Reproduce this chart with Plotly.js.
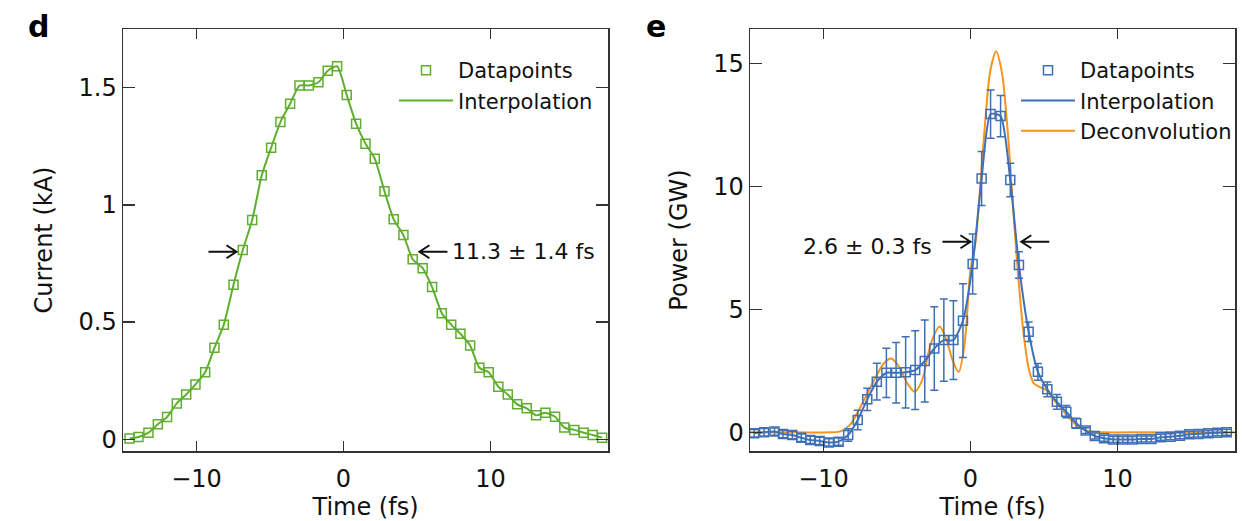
<!DOCTYPE html>
<html><head><meta charset="utf-8">
<script src="https://cdn.plot.ly/plotly-3.0.1.min.js"></script>
<style>html,body{margin:0;padding:0;background:#fff}#chart{width:1243px;height:521px}</style>
</head><body><div id="chart"></div>
<script>
// ---- Panel d: current profile ----
const currentTime = [-14.56,-13.95,-13.27,-12.63,-12.0,-11.34,-10.7,-10.07,-9.41,-8.78,-8.14,-7.48,-6.85,-6.21,-5.56,-4.92,-4.29,-3.63,-2.99,-2.36,-1.7,-1.07,-0.43,0.22,0.86,1.5,2.13,2.79,3.42,4.08,4.71,5.39,6.03,6.69,7.33,7.96,8.62,9.25,9.88,10.54,11.18,11.82,12.47,13.11,13.74,14.4,15.03,15.71,16.35,16.96,17.6];
const currentKA = [0.003,0.01,0.028,0.064,0.095,0.153,0.191,0.234,0.286,0.39,0.489,0.659,0.807,0.935,1.126,1.244,1.353,1.431,1.509,1.509,1.523,1.572,1.591,1.469,1.346,1.261,1.197,1.058,0.938,0.871,0.768,0.73,0.649,0.538,0.489,0.45,0.4,0.305,0.286,0.224,0.191,0.149,0.132,0.102,0.113,0.096,0.05,0.04,0.028,0.018,0.007];

// ---- Panel e: power profile ----
const powerTime = [-14.72,-14.04,-13.33,-12.76,-12.12,-11.51,-10.9,-10.26,-9.63,-8.97,-8.32,-7.67,-7.02,-6.37,-5.72,-5.06,-4.41,-3.76,-3.11,-2.46,-1.81,-1.16,-0.51,0.15,0.76,1.37,2.05,2.71,3.3,3.96,4.59,5.23,5.88,6.52,7.2,7.84,8.46,9.09,9.71,10.38,11.02,11.63,12.31,12.95,13.61,14.25,14.88,15.5,16.18,16.8,17.44];
const powerGW = [-0.04,0.0,0.03,-0.07,-0.11,-0.22,-0.31,-0.35,-0.41,-0.38,-0.11,0.5,1.34,2.06,2.42,2.42,2.44,2.53,2.9,3.41,3.75,3.75,4.54,6.84,10.32,12.94,12.86,10.26,6.8,4.09,2.46,1.75,1.24,0.84,0.37,0.07,-0.15,-0.24,-0.29,-0.29,-0.29,-0.27,-0.27,-0.2,-0.18,-0.14,-0.08,-0.07,-0.04,-0.02,0.0];
const powerErr = [0.15,0.15,0.15,0.15,0.15,0.15,0.15,0.15,0.15,0.15,0.25,0.4,0.45,0.75,1.0,1.23,1.45,1.6,1.67,1.7,1.67,1.6,1.5,1.22,1.1,0.98,0.84,0.68,0.54,0.4,0.34,0.3,0.3,0.25,0.2,0.12,0.12,0.12,0.12,0.12,0.12,0.12,0.12,0.12,0.12,0.12,0.12,0.12,0.12,0.12,0.12];
const deconvTime = [-15,-12,-9.5,-8.8,-8.2,-7.6,-7.0,-6.4,-5.9,-5.4,-4.9,-4.3,-3.8,-3.3,-2.7,-2.1,-1.6,-1.2,-0.8,-0.4,0.0,0.35,0.7,1.0,1.35,1.75,2.15,2.5,2.8,3.1,3.4,3.7,4.0,4.3,4.7,5.2,5.7,6.2,6.7,7.2,7.7,8.2,9,12,15,18];
const deconvGW = [0,0,0,0.05,0.3,0.9,1.6,2.3,2.8,3.0,2.7,2.0,1.65,2.1,3.6,4.3,3.7,2.9,2.45,3.6,6.6,7.75,10.3,12.6,14.7,15.5,14.6,12.5,10.0,7.5,5.3,3.6,2.5,2.0,1.85,1.7,1.3,0.95,0.6,0.3,0.12,0.03,0,0,0,0];

// ---- ticks ----
const timeTicks = [-10,0,10];
const currentTicks = [0,0.5,1,1.5];
const powerTicks = [0,5,10,15];

// ---- FWHM markers ----
const currentHalf = 0.8;
const currentFwhmEdges = [-7.28, 5.17];
const currentFwhmLabel = '11.3 ± 1.4 fs';
const powerHalf = 7.75;
const powerFwhmEdges = [0.0, 3.46];
const powerFwhmLabel = '2.6 ± 0.3 fs';

const GREEN = '#5fae2e', BLUE = '#3f6fb5', ORANGE = '#f7931e', AX = '#333333';
const FONT = 'DejaVu Sans';
const W = 1243, H = 521;

const traces = [
  {x: currentTime, y: currentKA, type:'scatter', mode:'lines', line:{color:GREEN, width:2, shape:'spline', smoothing:0.6},
   name:'Interpolation', xaxis:'x', yaxis:'y', legend:'legend', legendrank:2},
  {x: currentTime, y: currentKA, type:'scatter', mode:'markers', marker:{symbol:'square-open', size:9, color:GREEN, line:{width:1.5, color:GREEN}},
   name:'Datapoints', xaxis:'x', yaxis:'y', legend:'legend', legendrank:1},
  {x: deconvTime, y: deconvGW, type:'scatter', mode:'lines', line:{color:ORANGE, width:2, shape:'spline', smoothing:0.8},
   name:'Deconvolution', xaxis:'x2', yaxis:'y2', legend:'legend2', legendrank:3},
  {x: powerTime, y: powerGW, type:'scatter', mode:'lines', line:{color:BLUE, width:2, shape:'spline', smoothing:0.6},
   name:'Interpolation', xaxis:'x2', yaxis:'y2', legend:'legend2', legendrank:2},
  {x: powerTime, y: powerGW, type:'scatter', mode:'markers', marker:{symbol:'square-open', size:9, color:BLUE, line:{width:1.5, color:BLUE}},
   error_y:{type:'data', array: powerErr, visible:true, color:BLUE, thickness:1.5, width:4},
   name:'Datapoints', xaxis:'x2', yaxis:'y2', legend:'legend2', legendrank:1}
];

function xAxis(dom, anchor){
  return {domain: dom, anchor: anchor, range:[-15,18], tickvals: timeTicks, ticks:'inside', ticklen:10, tickwidth:1.5, tickcolor:AX,
    showline:true, linecolor:AX, linewidth:1.5, mirror:'ticks', showgrid:false, zeroline:false, ticklabelstandoff:6,
    tickfont:{size:24, color:'#111', family:FONT}, title:{text:'Time (fs)', font:{size:24, color:'#111', family:FONT}, standoff:9}};
}
function yAxis(range, ticks, title, anchor){
  return {domain:[1-451/H, 1-29/H], anchor: anchor, range: range, tickvals: ticks, ticks:'inside', ticklen:12, tickwidth:1.5, tickcolor:AX,
    showline:true, linecolor:AX, linewidth:1.5, mirror:'ticks', showgrid:false, zeroline:false,
    tickfont:{size:24, color:'#111', family:FONT}, title:{text:title, font:{size:24, color:'#111', family:FONT}, standoff:19}};
}

function arrowShape(xref, yref, xa, ya, dir){
  const s = dir; // +1 points right, -1 points left
  return {type:'path', xref:xref, yref:yref, xsizemode:'pixel', ysizemode:'pixel', xanchor:xa, yanchor:ya,
    path:`M${-28*s},0L0,0M${-10*s},6.5L0,0L${-10*s},-6.5`, line:{color:'#111', width:2}};
}

const layout = {
  width: W, height: H, margin:{l:0,r:0,t:0,b:0}, paper_bgcolor:'#fff', plot_bgcolor:'#fff',
  font:{family:FONT, color:'#111'}, showlegend:true, hovermode:false,
  xaxis: xAxis([123/W, 608/W], 'y'),
  yaxis: yAxis([-0.05,1.75], currentTicks, 'Current (kA)', 'x'),
  xaxis2: xAxis([750/W, 1235/W], 'y2'),
  yaxis2: yAxis([-0.76,16.4], powerTicks, 'Power (GW)', 'x2'),
  legend: {x:394/W, y:1-50/H, xanchor:'left', yanchor:'top', bgcolor:'rgba(0,0,0,0)', font:{size:21, family:FONT, color:'#111'}, itemwidth:54, tracegroupgap:0},
  legend2: {x:1016/W, y:1-50/H, xanchor:'left', yanchor:'top', bgcolor:'rgba(0,0,0,0)', font:{size:21, family:FONT, color:'#111'}, itemwidth:54, tracegroupgap:0},
  shapes: [
    arrowShape('x','y', currentFwhmEdges[0], currentHalf, 1),
    arrowShape('x','y', currentFwhmEdges[1], currentHalf, -1),
    arrowShape('x2','y2', powerFwhmEdges[0], powerHalf, 1),
    arrowShape('x2','y2', powerFwhmEdges[1], powerHalf, -1)
  ],
  annotations: [
    {xref:'x', yref:'y', x:7.26, y:currentHalf, text:currentFwhmLabel, showarrow:false, xanchor:'left', yanchor:'middle', font:{size:22, family:FONT, color:'#111'}},
    {xref:'x2', yref:'y2', x:-2.45, y:7.57, text:powerFwhmLabel, showarrow:false, xanchor:'right', yanchor:'middle', font:{size:22, family:FONT, color:'#111'}},
    {xref:'paper', yref:'paper', x:26/W, y:1-27/H, text:'<b>d</b>', showarrow:false, xanchor:'left', yanchor:'middle', font:{size:30, family:FONT, color:'#000'}},
    {xref:'paper', yref:'paper', x:644/W, y:1-27/H, text:'<b>e</b>', showarrow:false, xanchor:'left', yanchor:'middle', font:{size:30, family:FONT, color:'#000'}}
  ]
};

Plotly.newPlot('chart', traces, layout, {staticPlot:true, displayModeBar:false});
</script>
</body></html>
